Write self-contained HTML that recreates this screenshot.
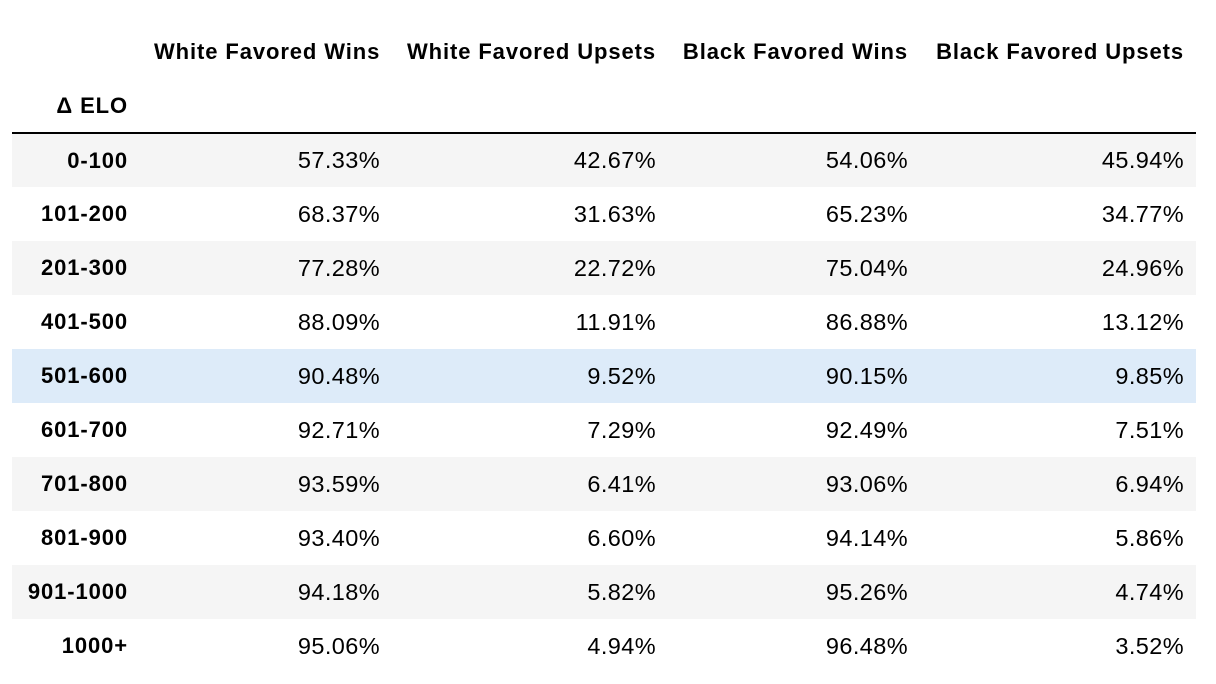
<!DOCTYPE html>
<html><head><meta charset="utf-8"><style>
html,body{margin:0;padding:0;background:#fff;width:1216px;height:684px;overflow:hidden}
body{font-family:"Liberation Sans",Arial,sans-serif;color:#000}
table{position:absolute;left:12px;top:24px;border-collapse:collapse;table-layout:fixed;width:1184px}
th,td{padding:0 12px;text-align:right;white-space:nowrap}
td{font-size:23.5px;letter-spacing:0.4px}
thead th{font-weight:bold;font-size:22px;letter-spacing:0.9px}
tr.h1 th{height:56px;vertical-align:middle}
tr.h2 th{height:52px;border-bottom:2px solid #000}
tbody tr{height:54px}
tbody th{font-weight:bold;font-size:22px;letter-spacing:0.9px;padding-right:14px}
thead tr.h2 th:first-child{padding-right:14px}
tbody tr:nth-child(odd){background:#f5f5f5}
tbody tr.hl{background:#ddebf9}
</style></head><body>
<table>
<colgroup><col style="width:130px"><col style="width:250px"><col style="width:276px"><col style="width:252px"><col style="width:276px"></colgroup>
<thead>
<tr class="h1"><th></th>
<th>White Favored Wins</th>
<th>White Favored Upsets</th>
<th>Black Favored Wins</th>
<th>Black Favored Upsets</th></tr>
<tr class="h2"><th>Δ ELO</th><th></th><th></th><th></th><th></th></tr>
</thead>
<tbody>
<tr><th>0-100</th><td>57.33%</td><td>42.67%</td><td>54.06%</td><td>45.94%</td></tr>
<tr><th>101-200</th><td>68.37%</td><td>31.63%</td><td>65.23%</td><td>34.77%</td></tr>
<tr><th>201-300</th><td>77.28%</td><td>22.72%</td><td>75.04%</td><td>24.96%</td></tr>
<tr><th>401-500</th><td>88.09%</td><td>11.91%</td><td>86.88%</td><td>13.12%</td></tr>
<tr class="hl"><th>501-600</th><td>90.48%</td><td>9.52%</td><td>90.15%</td><td>9.85%</td></tr>
<tr><th>601-700</th><td>92.71%</td><td>7.29%</td><td>92.49%</td><td>7.51%</td></tr>
<tr><th>701-800</th><td>93.59%</td><td>6.41%</td><td>93.06%</td><td>6.94%</td></tr>
<tr><th>801-900</th><td>93.40%</td><td>6.60%</td><td>94.14%</td><td>5.86%</td></tr>
<tr><th>901-1000</th><td>94.18%</td><td>5.82%</td><td>95.26%</td><td>4.74%</td></tr>
<tr><th>1000+</th><td>95.06%</td><td>4.94%</td><td>96.48%</td><td>3.52%</td></tr>
</tbody>
</table>
</body></html>
